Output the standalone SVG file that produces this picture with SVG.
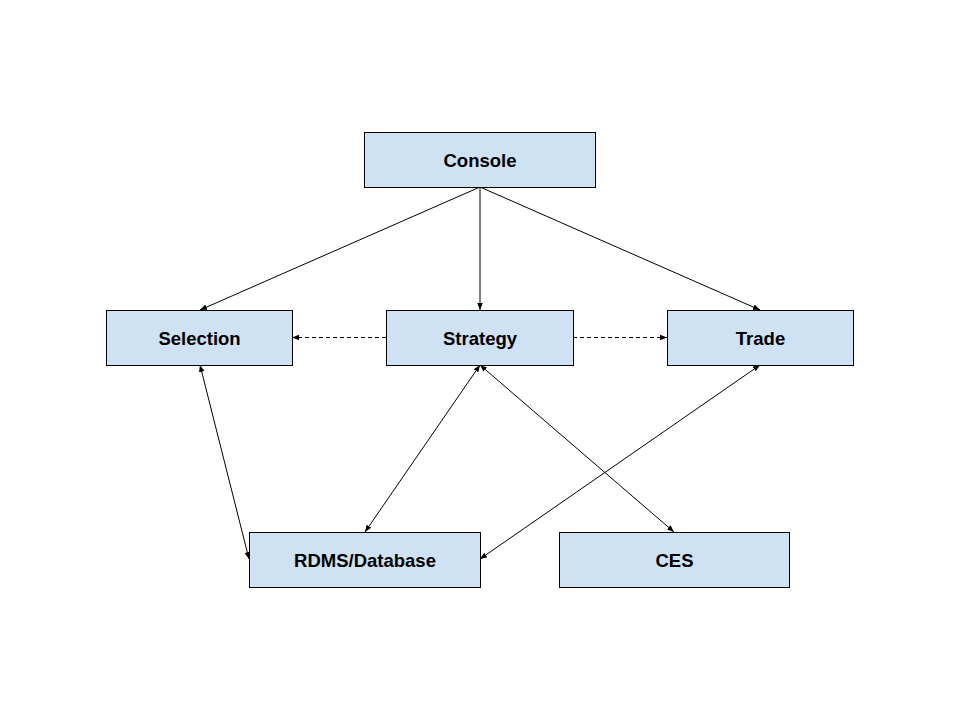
<svg xmlns="http://www.w3.org/2000/svg" width="960" height="720" viewBox="0 0 960 720">
<style>
.box{fill:#cfe2f3;stroke:#000;stroke-width:1}
.lbl{font-family:"Liberation Sans",Arial,sans-serif;font-weight:bold;font-size:18.5px;fill:#000;text-anchor:middle;dominant-baseline:central}
.ln{stroke:#000;stroke-width:1;fill:none}
.dash{stroke-dasharray:4,3}
</style>
<defs>
<marker id="ah" viewBox="0 0 10 10" refX="10" refY="5" markerWidth="7" markerHeight="7" orient="auto-start-reverse" markerUnits="userSpaceOnUse">
<path d="M0,1 L10,5 L0,9 z" fill="#000"/>
</marker>
</defs>
<rect width="960" height="720" fill="#fff"/>
<g id="connectors">
<line class="ln" x1="480" y1="187" x2="200" y2="310" marker-end="url(#ah)"/>
<line class="ln" x1="480" y1="187" x2="480" y2="310" marker-end="url(#ah)"/>
<line class="ln" x1="480" y1="187" x2="760" y2="310" marker-end="url(#ah)"/>
<line class="ln dash" x1="386" y1="337.5" x2="292" y2="337.5" marker-end="url(#ah)"/>
<line class="ln dash" x1="573" y1="337.5" x2="667" y2="337.5" marker-end="url(#ah)"/>
<line class="ln" x1="200" y1="365" x2="249" y2="559" marker-start="url(#ah)" marker-end="url(#ah)"/>
<line class="ln" x1="480" y1="365" x2="365" y2="532" marker-start="url(#ah)" marker-end="url(#ah)"/>
<line class="ln" x1="480" y1="365" x2="674" y2="532" marker-start="url(#ah)" marker-end="url(#ah)"/>
<line class="ln" x1="760" y1="365" x2="480" y2="559" marker-start="url(#ah)" marker-end="url(#ah)"/>
</g>
<g id="console"><rect class="box" x="364.5" y="132.5" width="231" height="55"/><text class="lbl" x="480" y="160">Console</text></g>
<g id="selection"><rect class="box" x="106.5" y="310.5" width="186" height="55"/><text class="lbl" x="199.5" y="338">Selection</text></g>
<g id="strategy"><rect class="box" x="386.5" y="310.5" width="187" height="55"/><text class="lbl" x="480" y="338">Strategy</text></g>
<g id="trade"><rect class="box" x="667.5" y="310.5" width="186" height="55"/><text class="lbl" x="760.5" y="338">Trade</text></g>
<g id="rdms"><rect class="box" x="249.5" y="532.5" width="231" height="55"/><text class="lbl" x="365" y="560">RDMS/Database</text></g>
<g id="ces"><rect class="box" x="559.5" y="532.5" width="230" height="55"/><text class="lbl" x="674.5" y="560">CES</text></g>
</svg>
